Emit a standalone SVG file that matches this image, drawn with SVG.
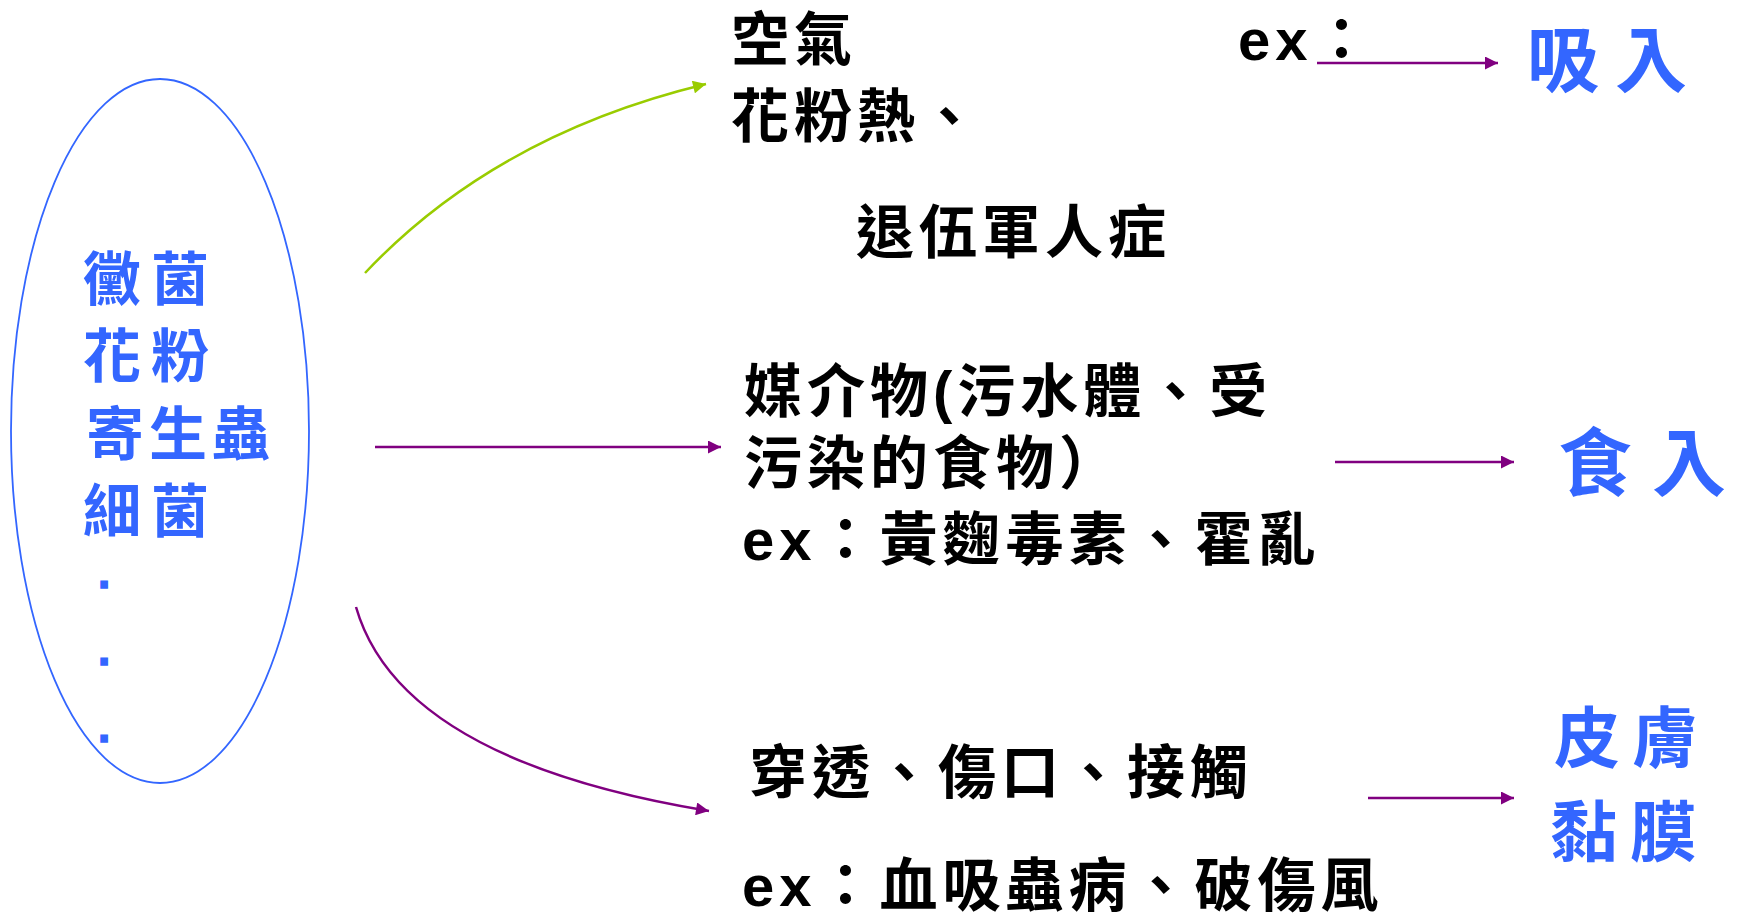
<svg xmlns="http://www.w3.org/2000/svg" width="1737" height="915" viewBox="0 0 1737 915">
<defs>
<style>
.blk{font-family:"Liberation Sans","Noto Sans CJK TC",sans-serif;font-weight:700;font-size:58px;letter-spacing:5px;fill:#000}
.blu{font-family:"Liberation Sans","Noto Sans CJK TC",sans-serif;font-weight:700;fill:#3366FF}
.dot{stroke:#3366FF;stroke-width:1.5}
.pur{fill:none;stroke:#800080;stroke-width:2.5}
.grn{fill:none;stroke:#99CC00;stroke-width:2.5}
</style>
<marker id="ap" viewBox="0 0 10 10" refX="10" refY="5" markerWidth="15" markerHeight="13" markerUnits="userSpaceOnUse" orient="auto"><path d="M0,0 L10,5 L0,10 z" fill="#800080"/></marker>
<marker id="ag" viewBox="0 0 10 10" refX="10" refY="5" markerWidth="15" markerHeight="13" markerUnits="userSpaceOnUse" orient="auto"><path d="M0,0 L10,5 L0,10 z" fill="#99CC00"/></marker>
</defs>
<rect width="1737" height="915" fill="#fff"/>
<g id="source">
<ellipse cx="160" cy="431" rx="149" ry="352" fill="none" stroke="#3366FF" stroke-width="1.8"/>
<text class="blu" font-size="58" letter-spacing="10" x="83" y="300">黴菌</text>
<text class="blu" font-size="58" letter-spacing="10" x="83" y="377">花粉</text>
<text class="blu" font-size="58" letter-spacing="5" x="86" y="455">寄生蟲</text>
<text class="blu" font-size="58" letter-spacing="10" x="83" y="532">細菌</text>
<text class="blu dot" font-size="44" x="98" y="588">.</text>
<text class="blu dot" font-size="44" x="98" y="665">.</text>
<text class="blu dot" font-size="44" x="98" y="742">.</text>
</g>
<g id="air">
<text class="blk" x="731" y="60">空氣</text>
<text class="blk" x="1238" y="60" letter-spacing="2">ex：</text>
<text class="blk" x="731" y="137">花粉熱、</text>
<text class="blk" x="856" y="253">退伍軍人症</text>
</g>
<g id="food">
<text class="blk" x="744" y="412" letter-spacing="7">媒介物(污水體、受</text>
<text class="blk" x="744" y="484">污染的食物）</text>
<text class="blk" x="742" y="560">ex：黃麴毒素、霍亂</text>
</g>
<g id="skin">
<text class="blk" x="749" y="793">穿透、傷口、接觸</text>
<text class="blk" x="742" y="906">ex：血吸蟲病、破傷風</text>
</g>
<g id="inhale"><text class="blu" font-size="72" x="1527" y="86">吸<tspan dx="16">入</tspan></text></g>
<g id="ingest"><text class="blu" font-size="74" x="1558" y="490">食<tspan dx="20">入</tspan></text></g>
<g id="mucosa">
<text class="blu" font-size="66" x="1554" y="762">皮<tspan dx="12">膚</tspan></text>
<text class="blu" font-size="66" x="1551" y="856">黏<tspan dx="13">膜</tspan></text>
</g>
<g id="connectors">
<path class="grn" d="M365,273 Q495,135 706,84" marker-end="url(#ag)"/>
<path class="pur" d="M375,447 L721,447" marker-end="url(#ap)"/>
<path class="pur" d="M356,607 Q400,760 709,811" marker-end="url(#ap)"/>
<path class="pur" d="M1317,63 L1498,63" marker-end="url(#ap)"/>
<path class="pur" d="M1335,462 L1514,462" marker-end="url(#ap)"/>
<path class="pur" d="M1368,798 L1514,798" marker-end="url(#ap)"/>
</g>
</svg>
